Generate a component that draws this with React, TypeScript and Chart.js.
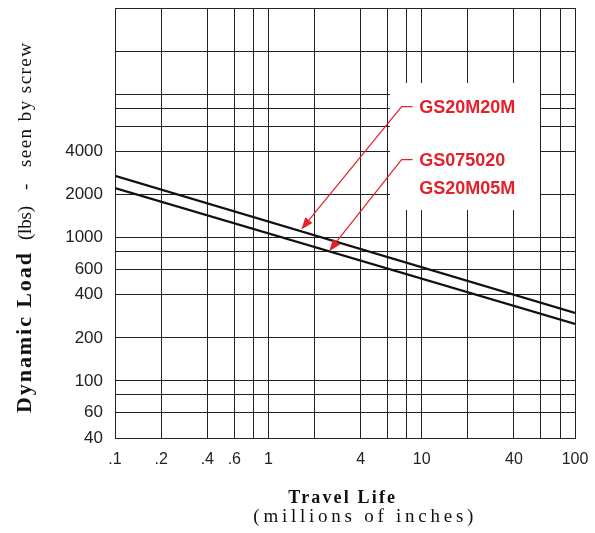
import React, { useEffect, useRef } from "react";
import { Chart, registerables } from "chart.js";

Chart.register(...registerables);

// ---- data ----
const travelLife = [0.1, 100]; // millions of inches
const loadGS20M20M = [2700, 298]; // lbs
const loadGS075020 = [2220, 250]; // lbs (GS075020 / GS20M05M)

const xGridValues = [0.1, 0.2, 0.4, 0.6, 0.8, 1, 2, 4, 6, 8, 10, 20, 40, 60, 80, 100];
const xLabelValues = [0.1, 0.2, 0.4, 0.6, 1, 4, 10, 40, 100];
const xLabelTexts = [".1", ".2", ".4", ".6", "1", "4", "10", "40", "100"];

const yGridValues = [40, 60, 80, 100, 200, 400, 600, 800, 1000, 2000, 4000, 6000, 8000, 10000, 20000, 40000];
const yLabelValues = [40, 60, 100, 200, 400, 600, 1000, 2000, 4000];
const yLabelTexts = ["40", "60", "100", "200", "400", "600", "1000", "2000", "4000"];

const calloutNames = ["GS20M20M", "GS075020", "GS20M05M"];
const arrowTails = [
  { x: 7.4, y: 8200 },
  { x: 7.4, y: 3500 },
];
const arrowTips = [
  { x: 1.64, y: 1140 },
  { x: 2.49, y: 805 },
];

const RED = "#e3212b";
const SANS = '"Liberation Sans", Arial, Helvetica, sans-serif';
const SERIF = '"Liberation Serif", "Times New Roman", Times, serif';

function findLabel(v: number, values: number[], texts: string[]) {
  for (let i = 0; i < values.length; i++) {
    if (Math.abs(v - values[i]) / values[i] < 1e-6) return texts[i];
  }
  return "";
}

function zeroPadding(scale: any) {
  scale.paddingTop = 0;
  scale.paddingBottom = 0;
  scale.paddingLeft = 0;
  scale.paddingRight = 0;
}

// draw text spread to a target width via letter spacing
function fitText(ctx: any, text: string, x: number, y: number, target: number) {
  ctx.letterSpacing = "0px";
  const w = ctx.measureText(text).width;
  const n = text.length;
  let ls = n > 1 ? (target - w) / (n - 1) : 0;
  ls = Math.max(-1, Math.min(5, ls));
  ctx.letterSpacing = `${ls.toFixed(2)}px`;
  ctx.fillText(text, x, y);
  ctx.letterSpacing = "0px";
}

const overlayPlugin = {
  id: "overlay",
  afterDraw(chart: any) {
    const { ctx, scales } = chart;
    const xs = scales.x;
    const ys = scales.y;
    ctx.save();

    // white callout area
    ctx.fillStyle = "#ffffff";
    ctx.fillRect(390, 83, 150, 127);

    // arrows
    ctx.strokeStyle = RED;
    ctx.fillStyle = RED;
    ctx.lineWidth = 1.2;
    const tailPix: { x: number; y: number }[] = [];
    arrowTails.forEach((t, i) => {
      const tx = xs.getPixelForValue(t.x);
      const ty = ys.getPixelForValue(t.y);
      const hx = xs.getPixelForValue(arrowTips[i].x);
      const hy = ys.getPixelForValue(arrowTips[i].y);
      tailPix.push({ x: tx, y: ty });
      const ang = Math.atan2(hy - ty, hx - tx);
      const len = 12;
      const w = 4.5;
      const bx = hx - len * Math.cos(ang);
      const by = hy - len * Math.sin(ang);
      ctx.beginPath();
      ctx.moveTo(tx + 11, ty);
      ctx.lineTo(tx, ty);
      ctx.lineTo(bx, by);
      ctx.stroke();
      ctx.beginPath();
      ctx.moveTo(hx, hy);
      ctx.lineTo(bx + w * Math.sin(ang), by - w * Math.cos(ang));
      ctx.lineTo(bx - w * Math.sin(ang), by + w * Math.cos(ang));
      ctx.closePath();
      ctx.fill();
    });

    // callout text
    ctx.font = `bold 18px ${SANS}`;
    ctx.textAlign = "left";
    ctx.textBaseline = "alphabetic";
    ctx.fillText(calloutNames[0], tailPix[0].x + 17.6, tailPix[0].y + 6);
    ctx.fillText(calloutNames[1], tailPix[1].x + 17.6, tailPix[1].y + 6.3);
    ctx.fillText(calloutNames[2], tailPix[1].x + 17.6, tailPix[1].y + 34.6);

    // x axis title
    ctx.fillStyle = "#111";
    ctx.font = `bold 18px ${SERIF}`;
    fitText(ctx, "Travel Life", 288.3, 503.3, 106.7);
    ctx.font = `19px ${SERIF}`;
    fitText(ctx, "(millions of inches)", 253.3, 522, 220);

    // y axis title (rotated, reading bottom to top)
    ctx.translate(31, 413);
    ctx.rotate(-Math.PI / 2);
    ctx.font = `bold 22px ${SERIF}`;
    fitText(ctx, "Dynamic Load", 0, 0, 160);
    ctx.font = `19px ${SERIF}`;
    fitText(ctx, "(lbs)", 173, 0, 34);
    fitText(ctx, "-", 223, 0, 6);
    fitText(ctx, "seen by screw", 246, 0, 124);
    ctx.restore();
  },
};

export default function App() {
  const canvasRef = useRef<HTMLCanvasElement | null>(null);

  useEffect(() => {
    const canvas = canvasRef.current;
    if (!canvas) return;
    const chart = new Chart(canvas, {
      type: "line",
      data: {
        datasets: [
          {
            label: "GS20M20M",
            data: travelLife.map((v, i) => ({ x: v, y: loadGS20M20M[i] })),
            borderColor: "#111",
            borderWidth: 2.2,
            pointRadius: 0,
            fill: false,
            tension: 0,
          },
          {
            label: "GS075020 / GS20M05M",
            data: travelLife.map((v, i) => ({ x: v, y: loadGS075020[i] })),
            borderColor: "#111",
            borderWidth: 2.2,
            pointRadius: 0,
            fill: false,
            tension: 0,
          },
        ],
      },
      options: {
        responsive: false,
        animation: false,
        devicePixelRatio: 1,
        layout: { padding: { top: 8, right: 20, bottom: 0, left: 0 } },
        plugins: {
          legend: { display: false },
          tooltip: { enabled: false },
          title: { display: false },
        },
        scales: {
          x: {
            type: "logarithmic",
            min: 0.1,
            max: 100,
            afterBuildTicks: (scale: any) => {
              scale.ticks = xGridValues.map((v) => ({ value: v }));
            },
            afterFit: (scale: any) => {
              scale.height = 95;
              zeroPadding(scale);
            },
            grid: { color: "#222", lineWidth: 1, drawTicks: false },
            border: { display: true, color: "#222", width: 1 },
            ticks: {
              autoSkip: false,
              maxRotation: 0,
              minRotation: 0,
              padding: 12,
              color: "#222",
              font: { family: SANS, size: 16 },
              callback: (v: any) => findLabel(Number(v), xLabelValues, xLabelTexts),
            },
          },
          y: {
            type: "logarithmic",
            min: 40,
            max: 40000,
            afterBuildTicks: (scale: any) => {
              scale.ticks = yGridValues.map((v) => ({ value: v }));
            },
            afterFit: (scale: any) => {
              scale.width = 115;
              zeroPadding(scale);
            },
            grid: { color: "#222", lineWidth: 1, drawTicks: false },
            border: { display: true, color: "#222", width: 1 },
            ticks: {
              autoSkip: false,
              padding: 12,
              color: "#222",
              font: { family: SANS, size: 17 },
              callback: (v: any) => findLabel(Number(v), yLabelValues, yLabelTexts),
            },
          },
        },
      },
      plugins: [overlayPlugin],
    } as any);
    return () => chart.destroy();
  }, []);

  return (
    <div style={{ position: "absolute", left: 0, top: 0, width: 595, height: 533, background: "#fff" }}>
      <canvas ref={canvasRef} width={595} height={533} style={{ display: "block" }} />
    </div>
  );
}
